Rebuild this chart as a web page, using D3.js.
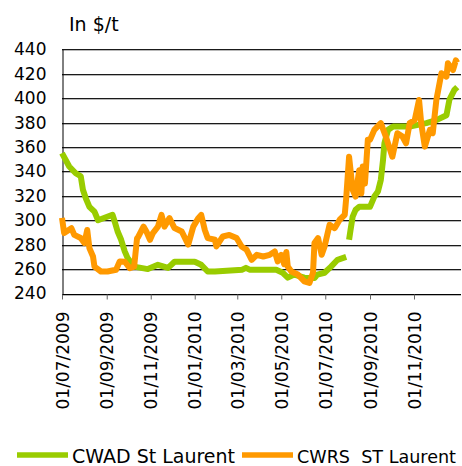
<!DOCTYPE html>
<html>
<head>
<meta charset="utf-8">
<script src="https://cdn.jsdelivr.net/npm/d3@7"></script>
<style>
  html, body { margin: 0; padding: 0; background: #fff; }
  svg { display: block; font-family: "DejaVu Sans", Verdana, sans-serif; }
</style>
</head>
<body>
<svg width="462" height="466"></svg>
<script>
// CWAD St Laurent (green) - null marks the break in the series
var cwadDates = ['2009-07-01','2009-07-11','2009-07-20','2009-07-27','2009-07-30','2009-08-03','2009-08-08',
    '2009-08-15','2009-08-20','2009-08-29','2009-09-09','2009-09-12','2009-09-16','2009-09-21','2009-09-26',
    '2009-09-30','2009-10-09','2009-10-28','2009-11-11','2009-11-25','2009-12-04','2010-01-01','2010-01-10',
    '2010-01-19','2010-01-29','2010-03-08','2010-03-13','2010-03-18','2010-04-24','2010-05-03','2010-05-10',
    '2010-05-19','2010-06-02','2010-06-16','2010-06-20','2010-06-30','2010-07-09','2010-07-18','2010-07-30',
    '2010-08-01','2010-08-03','2010-08-05','2010-08-08','2010-08-12','2010-08-17','2010-09-01','2010-09-07',
    '2010-09-12','2010-09-16','2010-09-19','2010-09-21','2010-09-26','2010-10-03','2010-10-26','2010-11-18',
    '2010-12-02','2010-12-16','2010-12-20','2010-12-27','2010-12-31'];
var cwadValues = [355,344,338.5,336,325,318,311,
    307,300,302,304.5,299,291,284,274.5,
    269,262,260,263.5,261,266,266,263.5,
    258,258,259.5,261,259.5,259.5,257,253,
    255.5,253,252.7,255.5,257,262,267.6,270,
    null,284,292,303,308.5,311,311,319.4,
    323.5,333,349,363,374,376.7,376.7,379.5,
    382,386,398.5,406.7,409];

// CWRS ST Laurent (orange)
var cwrsDates = ['2009-07-01','2009-07-04','2009-07-14','2009-07-18','2009-07-27','2009-08-01','2009-08-05',
    '2009-08-08','2009-08-13','2009-08-15','2009-08-24','2009-09-02','2009-09-14','2009-09-19','2009-09-26',
    '2009-10-03','2009-10-09','2009-10-13','2009-10-15','2009-10-22','2009-10-26','2009-10-31','2009-11-04',
    '2009-11-11','2009-11-16','2009-11-20','2009-11-27','2009-12-04','2009-12-14','2009-12-23','2009-12-30',
    '2010-01-06','2010-01-10','2010-01-15','2010-01-19','2010-01-29','2010-01-31','2010-02-09','2010-02-18',
    '2010-02-28','2010-03-07','2010-03-14','2010-03-21','2010-03-28','2010-04-06','2010-04-15','2010-04-22',
    '2010-04-26','2010-05-01','2010-05-05','2010-05-08','2010-05-10','2010-05-15','2010-05-24','2010-06-02',
    '2010-06-09','2010-06-14','2010-06-16','2010-06-21','2010-06-26','2010-06-30','2010-07-07','2010-07-14',
    '2010-07-21','2010-07-28','2010-07-30','2010-08-03','2010-08-08','2010-08-12','2010-08-17','2010-08-20',
    '2010-08-22','2010-08-25','2010-08-29','2010-09-01','2010-09-07','2010-09-16','2010-09-23','2010-10-02',
    '2010-10-09','2010-10-16','2010-10-21','2010-10-26','2010-11-02','2010-11-08','2010-11-11','2010-11-16',
    '2010-11-23','2010-11-27','2010-12-02','2010-12-09','2010-12-16','2010-12-18','2010-12-25','2010-12-29',
    '2010-12-31'];
var cwrsValues = [302,289.5,293.5,288,285.4,281.3,292,
    277.2,270.3,262,258,258,259.5,266.3,266,
    260.8,262,285,286.7,294.8,290.8,284,289.5,
    294.8,304.4,294.8,301.7,293.6,290.8,280,294.8,
    301.7,304.4,292,285.4,284,278.5,286.7,288,
    285.4,278.5,275.8,267.6,271.7,270.3,271.7,274.4,
    266.3,271.7,264,274,262,258,255.5,250,
    248.6,257,281.3,285.4,271.7,278.5,296.3,293.5,
    300.4,304.5,318,352,325,319.4,341,322,
    344,330,366,365.8,374,379.5,368.5,352,
    371.3,368.5,363,379.5,382,398.5,379.5,360.3,
    374,371.3,398.5,420.4,417.6,428.5,423,431,
    429];

var yTicks = [240, 260, 280, 300, 320, 340, 360, 380, 400, 420, 440];
var xTickDates = ['2009-07-01','2009-09-01','2009-11-01','2010-01-01','2010-03-01',
    '2010-05-01','2010-07-01','2010-09-01','2010-11-01'];
var xStart = '2009-07-01', xEnd = '2011-01-01';
var seriesNames = ['CWAD St Laurent', 'CWRS  ST Laurent'];
var seriesColors = ['#99cc00', '#ff9900'];
var unitLabel = 'In $/t';

var parseDate = d3.timeParse('%Y-%m-%d');
var fmt = d3.timeFormat('%d/%m/%Y');

var svg = d3.select('svg');
var plot = { l: 62, r: 458, t: 49.3, b: 293.5 };

var x = d3.scaleTime()
    .domain([parseDate(xStart), parseDate(xEnd)])
    .range([plot.l, plot.r]);
var y = d3.scaleLinear().domain([240, 440]).range([plot.b, plot.t]);

// horizontal gridlines (dark line with a soft shadow under it)
var grid = svg.append('g');
yTicks.forEach(function (v) {
    var yy = Math.round(y(v)) + 0.5;
    grid.append('line').attr('x1', plot.l).attr('x2', 461)
        .attr('y1', yy + 1).attr('y2', yy + 1).attr('stroke', '#b8b8b8');
    grid.append('line').attr('x1', plot.l).attr('x2', 461)
        .attr('y1', yy).attr('y2', yy).attr('stroke', '#1a1a1a');
});

// y axis
svg.append('g')
    .attr('transform', 'translate(' + (plot.l + 0.5) + ',0)')
    .call(d3.axisLeft(y).tickValues(yTicks).tickSize(0).tickPadding(16))
    .call(function (g) {
        g.select('.domain').attr('stroke', '#000');
        g.selectAll('text').attr('font-size', 17).attr('fill', '#000')
            .attr('font-family', '"DejaVu Sans", Verdana, sans-serif');
    });

// x axis
var xTicks = xTickDates.map(parseDate);
svg.append('g')
    .attr('transform', 'translate(0,' + (Math.round(plot.b) + 0.5) + ')')
    .call(d3.axisBottom(x).tickValues(xTicks).tickSize(5).tickFormat(fmt).tickSizeOuter(0))
    .call(function (g) {
        g.select('.domain').attr('stroke', '#000')
            .attr('d', 'M' + plot.l + ',0H461');
        g.selectAll('.tick line').attr('stroke', '#666');
        g.selectAll('text')
            .attr('font-size', 17).attr('fill', '#000')
            .attr('font-family', '"DejaVu Sans", Verdana, sans-serif')
            .attr('text-anchor', 'end')
            .attr('transform', 'rotate(-90)')
            .attr('x', -17).attr('y', 0).attr('dy', '0.36em');
    });

// unit label
svg.append('text').attr('x', 69).attr('y', 31)
    .attr('font-size', 19).text(unitLabel);

// lines
function toSeries(dates, values) {
    return dates.map(function (d, i) { return { date: parseDate(d), value: values[i] }; });
}
var line = d3.line()
    .defined(function (d) { return d.value !== null; })
    .x(function (d) { return x(d.date); })
    .y(function (d) { return y(d.value); });

var series = [toSeries(cwadDates, cwadValues), toSeries(cwrsDates, cwrsValues)];
series.forEach(function (s, i) {
    svg.append('path').datum(s)
        .attr('fill', 'none')
        .attr('stroke', seriesColors[i])
        .attr('stroke-width', 6)
        .attr('stroke-linejoin', 'round')
        .attr('d', line);
});

// legend
var legendX = [17, 242];
var legendTextLen = [163, 159];
var legendFont = [19, 17.8];
seriesNames.forEach(function (name, i) {
    svg.append('line')
        .attr('x1', legendX[i]).attr('x2', legendX[i] + 51)
        .attr('y1', 455).attr('y2', 455)
        .attr('stroke', seriesColors[i]).attr('stroke-width', 5.5);
    svg.append('text')
        .attr('x', legendX[i] + 55).attr('y', 463)
        .attr('font-size', legendFont[i])
        .attr('textLength', legendTextLen[i])
        .attr('lengthAdjust', 'spacingAndGlyphs')
        .attr('xml:space', 'preserve')
        .text(name);
});
</script>
</body>
</html>
